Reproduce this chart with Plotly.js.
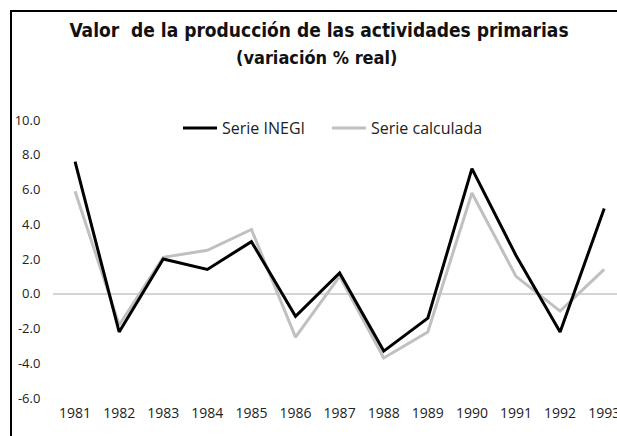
<!DOCTYPE html>
<html>
<head>
<meta charset="utf-8">
<script src="https://cdn.plot.ly/plotly-3.0.1.min.js"></script>
<style>html,body{margin:0;padding:0;background:#fff;}#chart{width:617px;height:436px;}</style>
</head>
<body>
<div id="chart"></div>
<script>
const years = ['1981','1982','1983','1984','1985','1986','1987','1988','1989','1990','1991','1992','1993'];
const serieINEGI = [7.6, -2.2, 2.0, 1.4, 3.0, -1.3, 1.2, -3.3, -1.4, 7.2, 2.2, -2.2, 4.9];
const serieCalculada = [5.9, -1.8, 2.1, 2.5, 3.7, -2.5, 1.0, -3.7, -2.2, 5.8, 1.0, -1.0, 1.4];
const yTicks = [10, 8, 6, 4, 2, 0, -2, -4, -6];
const titleText = 'Valor  de la producción de las actividades primarias';
const subtitleText = '(variación % real)';
const headerText = 'Gráfica 2';

const bodyFont = 'Open Sans, Liberation Sans, sans-serif';
const condFont = '"Liberation Sans Narrow", "DejaVu Sans Condensed", "Roboto Condensed", sans-serif';

// plot-area geometry helpers (pixels -> paper fractions)
const PL = 53, PT = 120, PW = 564, PH = 278;
const px = v => (v - PL) / PW;
const py = v => 1 - (v - PT) / PH;

const data = [
  {x: years, y: serieCalculada, type: 'scatter', mode: 'lines', name: 'Serie calculada',
   legend: 'legend2', line: {color: '#c0c0c0', width: 3}},
  {x: years, y: serieINEGI, type: 'scatter', mode: 'lines', name: 'Serie INEGI',
   legend: 'legend', line: {color: '#000000', width: 3}}
];

const legendBase = {
  orientation: 'h', xanchor: 'left', y: py(128), yanchor: 'middle',
  itemwidth: 34,
  font: {family: bodyFont, size: 16, color: '#222'},
  bgcolor: 'rgba(0,0,0,0)', borderwidth: 0
};

const layout = {
  width: 617, height: 436,
  margin: {l: PL, r: 617 - PL - PW, t: PT, b: 436 - PT - PH},
  paper_bgcolor: '#ffffff', plot_bgcolor: '#ffffff',
  font: {family: bodyFont, color: '#222'},
  showlegend: true,
  title: {
    text: '<b>' + titleText + '</b>',
    font: {family: condFont, size: 19, color: '#111'},
    x: 319 / 617, xanchor: 'center', xref: 'container',
    y: 1 - 30 / 436, yanchor: 'middle', yref: 'container'
  },
  annotations: [
    {text: '<b>' + subtitleText + '</b>', xref: 'paper', yref: 'paper',
     x: px(316), y: py(57), xanchor: 'center', yanchor: 'middle',
     showarrow: false, font: {family: condFont, size: 18, color: '#111'}},
    {text: '<b>' + headerText + '</b>', xref: 'paper', yref: 'paper',
     x: px(12), y: py(6), xanchor: 'left', yanchor: 'bottom',
     showarrow: false, font: {family: condFont, size: 27, color: '#a6a6a6'}}
  ],
  legend: Object.assign({}, legendBase, {x: px(178)}),
  legend2: Object.assign({}, legendBase, {x: px(327)}),
  xaxis: {
    type: 'category', range: [-0.5, 12.29],
    showgrid: false, zeroline: false, showline: false,
    ticks: 'outside', ticklen: 2, tickcolor: 'rgba(0,0,0,0)',
    tickfont: {family: bodyFont, size: 14, color: '#222'}
  },
  yaxis: {
    range: [-6, 10], tickvals: yTicks, ticktext: yTicks.map(v => v.toFixed(1)),
    showgrid: false, showline: false,
    zeroline: true, zerolinecolor: '#d4d4d4', zerolinewidth: 2,
    ticks: 'outside', ticklen: 9, tickcolor: 'rgba(0,0,0,0)',
    tickfont: {family: bodyFont, size: 13, color: '#222'}
  },
  shapes: [
    {type: 'rect', xref: 'paper', yref: 'paper',
     x0: px(11), x1: 1.2, y0: -0.5, y1: py(11),
     line: {color: '#000', width: 2}, fillcolor: 'rgba(0,0,0,0)'}
  ]
};

Plotly.newPlot('chart', data, layout, {displayModeBar: false, staticPlot: true});
</script>
</body>
</html>
